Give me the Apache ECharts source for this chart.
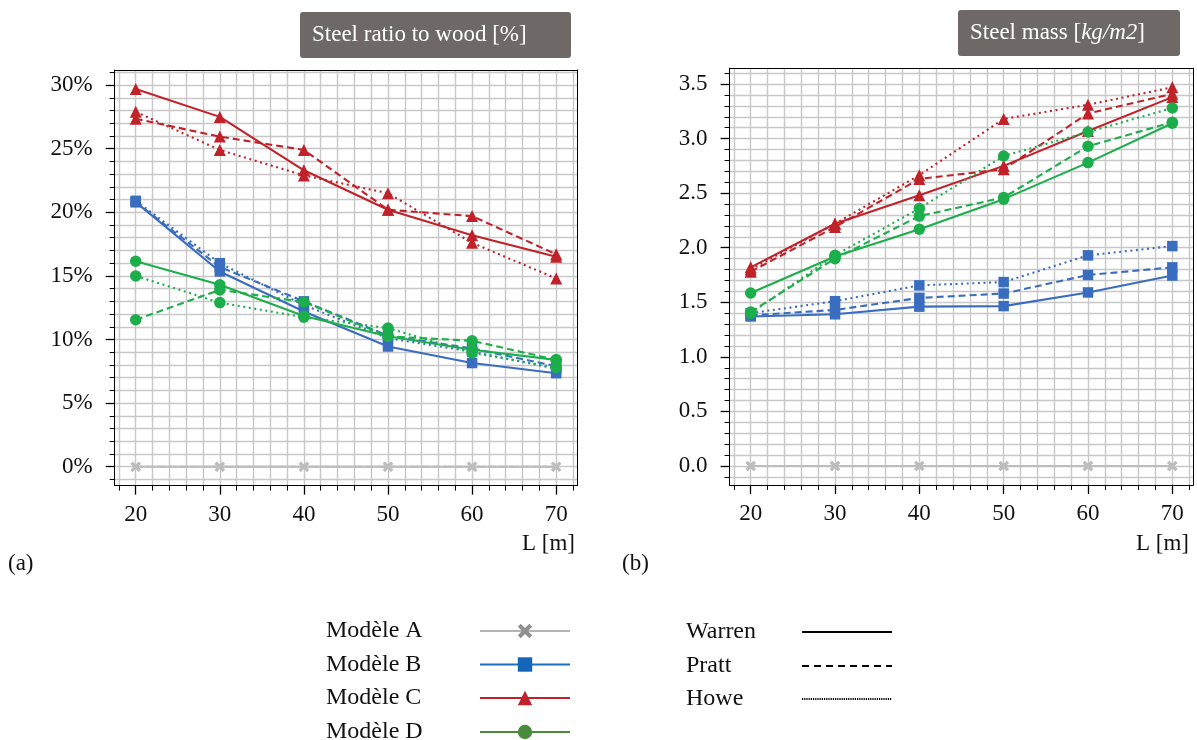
<!DOCTYPE html>
<html><head><meta charset="utf-8">
<script src="https://cdn.jsdelivr.net/npm/echarts@6/dist/echarts.min.js"></script>
<style>html,body{margin:0;padding:0;background:#fff}#c{width:1197px;height:740px}</style>
</head><body><div id="c"></div><script>
// ---------- data ----------
const L = [20, 30, 40, 50, 60, 70];
const models = ['Modèle A', 'Modèle B', 'Modèle C', 'Modèle D'];
const trusses = ['Warren', 'Pratt', 'Howe'];

// (a) Steel ratio to wood [%]
const ratioA_Warren = [0, 0, 0, 0, 0, 0];
const ratioA_Pratt  = [0, 0, 0, 0, 0, 0];
const ratioA_Howe   = [0, 0, 0, 0, 0, 0];
const ratioB_Warren = [20.8, 15.35, 12.2, 9.45, 8.15, 7.35];
const ratioB_Pratt  = [20.8, 15.7, 13.0, 10.3, 9.3, 7.9];
const ratioB_Howe   = [20.9, 16.0, 12.7, 10.1, 9.05, 7.7];
const ratioC_Warren = [29.7, 27.5, 23.3, 20.2, 18.2, 16.5];
const ratioC_Pratt  = [27.35, 25.95, 24.9, 20.2, 19.7, 16.7];
const ratioC_Howe   = [27.9, 24.9, 22.9, 21.5, 17.6, 14.8];
const ratioD_Warren = [16.15, 14.3, 11.85, 10.25, 9.2, 8.4];
const ratioD_Pratt  = [11.55, 13.9, 12.95, 10.25, 9.9, 8.4];
const ratioD_Howe   = [15.0, 12.9, 11.75, 10.9, 8.95, 7.8];

// (b) Steel mass [kg/m2]
const massA_Warren = [0, 0, 0, 0, 0, 0];
const massA_Pratt  = [0, 0, 0, 0, 0, 0];
const massA_Howe   = [0, 0, 0, 0, 0, 0];
const massB_Warren = [1.37, 1.39, 1.46, 1.465, 1.59, 1.745];
const massB_Pratt  = [1.38, 1.43, 1.54, 1.58, 1.75, 1.82];
const massB_Howe   = [1.40, 1.51, 1.655, 1.685, 1.93, 2.015];
const massC_Warren = [1.82, 2.22, 2.48, 2.75, 3.07, 3.38];
const massC_Pratt  = [1.78, 2.19, 2.63, 2.72, 3.23, 3.41];
const massC_Howe   = [1.80, 2.22, 2.665, 3.18, 3.31, 3.47];
const massD_Warren = [1.585, 1.92, 2.17, 2.445, 2.78, 3.14];
const massD_Pratt  = [1.41, 1.90, 2.29, 2.46, 2.93, 3.15];
const massD_Howe   = [1.40, 1.93, 2.36, 2.84, 3.06, 3.28];

// ticks
const xMajorTicks = [20, 30, 40, 50, 60, 70];
const xMinorTicks = [18, 20, 22, 24, 26, 28, 30, 32, 34, 36, 38, 40, 42, 44, 46, 48, 50, 52, 54, 56, 58, 60, 62, 64, 66, 68, 70, 72];
const ratioMajorTicks = [0, 5, 10, 15, 20, 25, 30];
const ratioMinorTicks = [-1, 0, 1, 2, 3, 4, 5, 6, 7, 8, 9, 10, 11, 12, 13, 14, 15, 16, 17, 18, 19, 20, 21, 22, 23, 24, 25, 26, 27, 28, 29, 30, 31];
const massMajorTicks = [0, 0.5, 1, 1.5, 2, 2.5, 3, 3.5];
const massMinorTicks = [-0.1, 0, 0.1, 0.2, 0.3, 0.4, 0.5, 0.6, 0.7, 0.8, 0.9, 1, 1.1, 1.2, 1.3, 1.4, 1.5, 1.6, 1.7, 1.8, 1.9, 2, 2.1, 2.2, 2.3, 2.4, 2.5, 2.6, 2.7, 2.8, 2.9, 3, 3.1, 3.2, 3.3, 3.4, 3.5, 3.6];

// ---------- styles ----------
const FONT = '"Liberation Serif", "DejaVu Serif", serif';
const modelColor = { 'Modèle A': '#bdbdbd', 'Modèle B': '#3a6dbf', 'Modèle C': '#c1222a', 'Modèle D': '#1cae4a' };
const modelSymbol = {
  'Modèle A': 'path://M0,2 L2,0 L5,3 L8,0 L10,2 L7,5 L10,8 L8,10 L5,7 L2,10 L0,8 L3,5 Z',
  'Modèle B': 'rect', 'Modèle C': 'triangle', 'Modèle D': 'circle'
};
const modelSize = { 'Modèle A': 10, 'Modèle B': 10.5, 'Modèle C': 12, 'Modèle D': 11.5 };
const trussDash = { 'Warren': 'solid', 'Pratt': [7, 4], 'Howe': [2, 3.6] };

const ratioData = {
  'Modèle A': [ratioA_Warren, ratioA_Pratt, ratioA_Howe],
  'Modèle B': [ratioB_Warren, ratioB_Pratt, ratioB_Howe],
  'Modèle C': [ratioC_Warren, ratioC_Pratt, ratioC_Howe],
  'Modèle D': [ratioD_Warren, ratioD_Pratt, ratioD_Howe]
};
const massData = {
  'Modèle A': [massA_Warren, massA_Pratt, massA_Howe],
  'Modèle B': [massB_Warren, massB_Pratt, massB_Howe],
  'Modèle C': [massC_Warren, massC_Pratt, massC_Howe],
  'Modèle D': [massD_Warren, massD_Pratt, massD_Howe]
};

const grids = [
  { left: 114.7, top: 70.0, width: 462.5, height: 415.6 },
  { left: 729.6, top: 68.2, width: 463.8, height: 416.7 }
];
const xRange = [17.5, 72.5];
const yRanges = [[-1.485, 31.185], [-0.1735, 3.645]];
const yMinor = [ratioMinorTicks, massMinorTicks];
const yMajor = [ratioMajorTicks, massMajorTicks];
const yFmt = [v => Math.round(v) + '%', v => v.toFixed(1)];

const black = { color: '#000', width: 1 };
const labelStyle = { fontFamily: FONT, fontSize: 23, color: '#111' };

const xAxes = [], yAxes = [];
grids.forEach((g, gi) => {
  xAxes.push({ type: 'value', gridIndex: gi, position: 'bottom', min: xRange[0], max: xRange[1],
    axisLine: { show: true, onZero: false, lineStyle: black },
    axisTick: { show: true, customValues: xMinorTicks, length: 5, lineStyle: black },
    axisLabel: { show: false },
    splitLine: { show: true, lineStyle: { color: '#c8c8c8', width: 1.4 } } });
  xAxes.push({ type: 'value', gridIndex: gi, position: 'bottom', min: xRange[0], max: xRange[1],
    axisLine: { show: false, onZero: false },
    axisTick: { show: true, customValues: xMajorTicks, length: 9, lineStyle: { color: '#000', width: 1.3 } },
    axisLabel: { show: true, customValues: xMajorTicks, margin: 18, ...labelStyle },
    splitLine: { show: false } });
  xAxes.push({ type: 'value', gridIndex: gi, position: 'top', min: xRange[0], max: xRange[1],
    axisLine: { show: true, onZero: false, lineStyle: black },
    axisTick: { show: false }, axisLabel: { show: false }, splitLine: { show: false } });

  yAxes.push({ type: 'value', gridIndex: gi, position: 'left', min: yRanges[gi][0], max: yRanges[gi][1],
    axisLine: { show: true, onZero: false, lineStyle: black },
    axisTick: { show: true, customValues: yMinor[gi], length: 5, lineStyle: black },
    axisLabel: { show: false },
    splitLine: { show: true, lineStyle: { color: '#c8c8c8', width: 1.4 } } });
  yAxes.push({ type: 'value', gridIndex: gi, position: 'left', min: yRanges[gi][0], max: yRanges[gi][1],
    axisLine: { show: false, onZero: false },
    axisTick: { show: true, customValues: yMajor[gi], length: 9, lineStyle: { color: '#000', width: 1.3 } },
    axisLabel: { show: true, customValues: yMajor[gi], margin: 22, formatter: yFmt[gi],
      padding: [5, 0, 0, 0], ...labelStyle },
    splitLine: { show: false } });
  yAxes.push({ type: 'value', gridIndex: gi, position: 'right', min: yRanges[gi][0], max: yRanges[gi][1],
    axisLine: { show: true, onZero: false, lineStyle: black },
    axisTick: { show: false }, axisLabel: { show: false }, splitLine: { show: false } });
});

const series = [];
[ratioData, massData].forEach((dataSet, gi) => {
  models.forEach(m => {
    trusses.forEach((t, ti) => {
      series.push({
        type: 'line', name: m + ' ' + t + ' ' + gi,
        xAxisIndex: gi * 3, yAxisIndex: gi * 3,
        data: L.map((x, i) => [x, dataSet[m][ti][i]]),
        symbol: modelSymbol[m], symbolSize: modelSize[m], showSymbol: true,
        lineStyle: { color: modelColor[m], width: 2.1, type: trussDash[t] },
        itemStyle: { color: modelColor[m] },
        animation: false, silent: true, z: 3
      });
    });
  });
});

// legend entries (no data)
const legendModelLine = { 'Modèle A': '#b4b4b4', 'Modèle B': '#1f6fbf', 'Modèle C': '#c1222a', 'Modèle D': '#4a8a3c' };
const legendModelMark = { 'Modèle A': '#8f8f8f', 'Modèle B': '#1565b8', 'Modèle C': '#c1222a', 'Modèle D': '#4a8a3c' };
models.forEach(m => series.push({
  type: 'line', name: m, data: [], xAxisIndex: 0, yAxisIndex: 0,
  symbol: modelSymbol[m],
  lineStyle: { color: legendModelLine[m], width: 2 },
  itemStyle: { color: legendModelMark[m] }
}));
const legendTruss = { 'Warren': { w: 2, d: 'solid' }, 'Pratt': { w: 2, d: [7, 5] }, 'Howe': { w: 1.2, d: [1.2, 1] } };
trusses.forEach(t => series.push({
  type: 'line', name: t, data: [], xAxisIndex: 0, yAxisIndex: 0,
  symbol: 'circle',
  lineStyle: { color: '#000', width: legendTruss[t].w, type: legendTruss[t].d },
  itemStyle: { color: 'rgba(0,0,0,0)' }
}));

const legendText = (w) => ({
  lineHeight: 22,
  rich: { t: { width: w, align: 'left', fontFamily: FONT, fontSize: 24, color: '#111', lineHeight: 22 } }
});
const modelRowCenter = [630, 663.5, 697, 731];
const trussRowCenter = [631, 665, 698];
const legends = [];
models.forEach((m, i) => legends.push({
  data: [m], orient: 'vertical', left: 326, top: modelRowCenter[i] - 11, padding: 0,
  itemWidth: 90, itemHeight: 18, align: 'right', formatter: '{t|{name}}',
  textStyle: legendText(149), selectedMode: false
}));
trusses.forEach((t, i) => legends.push({
  data: [t], orient: 'vertical', left: 686, top: trussRowCenter[i] - 11, padding: 0,
  itemWidth: 90, itemHeight: 18, align: 'right', formatter: '{t|{name}}',
  textStyle: legendText(111), selectedMode: false
}));

const option = {
  backgroundColor: '#fff',
  animation: false,
  grid: grids.map(g => ({ ...g, containLabel: false })),
  xAxis: xAxes,
  yAxis: yAxes,
  series: series,
  legend: legends,
  graphic: [
    { type: 'rect', shape: { x: 300, y: 12, width: 271, height: 46, r: 3 }, style: { fill: '#6e6967' } },
    { type: 'text', x: 312, y: 35, style: { text: 'Steel ratio to wood [%]', fill: '#fff',
      font: '23px ' + FONT, align: 'left', verticalAlign: 'middle' } },
    { type: 'rect', shape: { x: 958, y: 10, width: 222, height: 46, r: 3 }, style: { fill: '#6e6967' } },
    { type: 'text', x: 970, y: 33, style: { text: '{a|Steel mass [}{i|kg/m2}{a|]}', fill: '#fff',
      align: 'left', verticalAlign: 'middle',
      rich: { a: { fontFamily: FONT, fontSize: 23, color: '#fff' },
              i: { fontFamily: FONT, fontSize: 23, fontStyle: 'italic', color: '#fff' } } } },
    { type: 'text', x: 575, y: 544, style: { text: 'L [m]', fill: '#111', font: '23px ' + FONT,
      align: 'right', verticalAlign: 'middle' } },
    { type: 'text', x: 1189, y: 544, style: { text: 'L [m]', fill: '#111', font: '23px ' + FONT,
      align: 'right', verticalAlign: 'middle' } },
    { type: 'text', x: 8, y: 564, style: { text: '(a)', fill: '#111', font: '23px ' + FONT,
      align: 'left', verticalAlign: 'middle' } },
    { type: 'text', x: 622, y: 564, style: { text: '(b)', fill: '#111', font: '23px ' + FONT,
      align: 'left', verticalAlign: 'middle' } }
  ]
};

const chart = echarts.init(document.getElementById('c'), null, { renderer: 'canvas' });
chart.setOption(option);
</script></body></html>
